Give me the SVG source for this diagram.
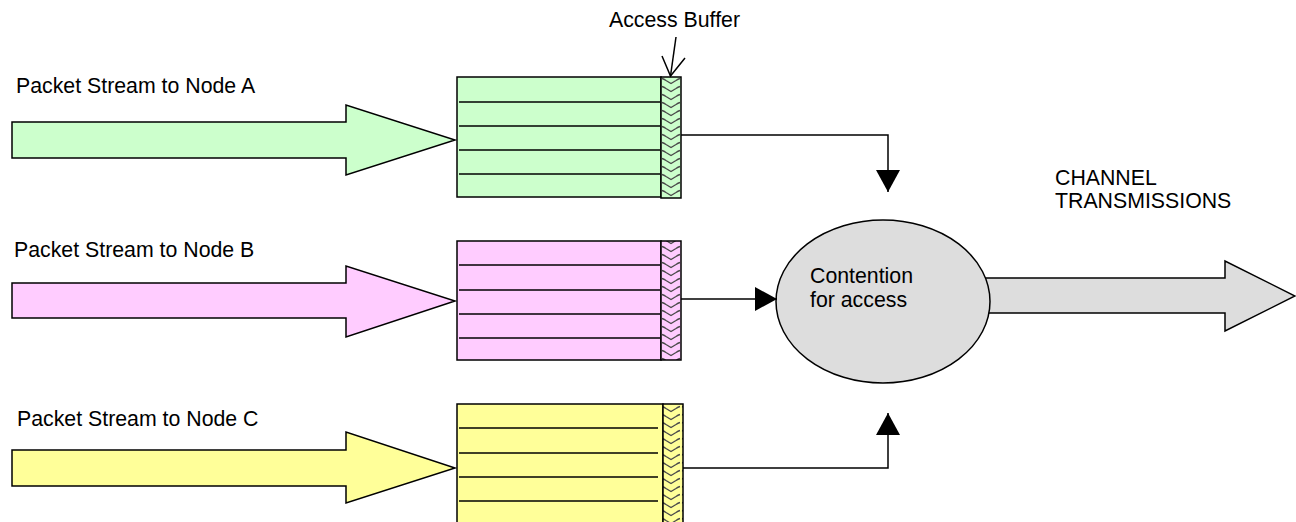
<svg xmlns="http://www.w3.org/2000/svg" width="1296" height="522" viewBox="0 0 1296 522">
<style>
text{font-family:"Liberation Sans",Arial,sans-serif;font-size:21.3px;fill:#000}
.outline{stroke:#000;stroke-width:1.5;stroke-linejoin:miter}
.row{stroke:#000;stroke-width:1.4}
.conn{fill:none;stroke:#000;stroke-width:1.5}
.chev{fill:url(#chev);stroke:none}
</style>
<defs>
<pattern id="chev" patternUnits="userSpaceOnUse" x="661" y="77" width="20" height="8">
<path d="M1,1.5 Q3,2 5,3.5 L10,6.5 L15,3.5 Q17,2 19,1.5" fill="none" stroke="#4a4a4a" stroke-width="1.3"/>
</pattern>
<marker id="tri" viewBox="0 0 22 24" refX="22" refY="12" markerWidth="22" markerHeight="24" markerUnits="userSpaceOnUse" orient="auto">
<path d="M0,0 L22,12 L0,24 Z" fill="#000"/>
</marker>
</defs>

<g id="streamA">
<text x="16" y="93">Packet Stream to Node A</text>
<path class="outline" fill="#CCFFCC" d="M12,122 L346,122 L346,105 L455,140 L346,175 L346,158 L12,158 Z"/>
</g>
<g id="streamB">
<text x="14" y="257">Packet Stream to Node B</text>
<path class="outline" fill="#FFCCFF" d="M12,283 L346,283 L346,266 L455,301 L346,337 L346,318 L12,318 Z"/>
</g>
<g id="streamC">
<text x="17" y="426">Packet Stream to Node C</text>
<path class="outline" fill="#FFFF99" d="M12,450 L346,450 L346,432 L455,468 L346,503 L346,486 L12,486 Z"/>
</g>

<g id="bufferA">
<rect class="outline" x="457" y="77" width="204" height="120" fill="#CCFFCC"/>
<line class="row" x1="459" y1="102" x2="660" y2="102"/>
<line class="row" x1="459" y1="126" x2="660" y2="126"/>
<line class="row" x1="459" y1="150" x2="660" y2="150"/>
<line class="row" x1="459" y1="174" x2="660" y2="174"/>
<rect x="661" y="77" width="20" height="121" fill="#CCFFCC"/>
<rect class="chev" x="661" y="77" width="20" height="121"/>
<rect x="661" y="77" width="20" height="121" fill="none" stroke="#000" stroke-width="1.5"/>
</g>
<g id="bufferB">
<rect class="outline" x="457" y="241" width="204" height="119" fill="#FFCCFF"/>
<line class="row" x1="459" y1="265" x2="660" y2="265"/>
<line class="row" x1="459" y1="290" x2="660" y2="290"/>
<line class="row" x1="459" y1="314" x2="660" y2="314"/>
<line class="row" x1="459" y1="338" x2="660" y2="338"/>
<rect x="661" y="241" width="20" height="119" fill="#FFCCFF"/>
<rect class="chev" x="661" y="241" width="20" height="119"/>
<rect x="661" y="241" width="20" height="119" fill="none" stroke="#000" stroke-width="1.5"/>
</g>
<g id="bufferC">
<rect class="outline" x="457" y="404" width="206" height="122" fill="#FFFF99"/>
<line class="row" x1="459" y1="428" x2="658" y2="428"/>
<line class="row" x1="459" y1="453" x2="658" y2="453"/>
<line class="row" x1="459" y1="477" x2="658" y2="477"/>
<line class="row" x1="459" y1="501" x2="658" y2="501"/>
<rect x="663" y="404" width="20" height="122" fill="#FFFF99"/>
<rect class="chev" x="663" y="404" width="20" height="122"/>
<rect x="663" y="404" width="20" height="122" fill="none" stroke="#000" stroke-width="1.5"/>
</g>

<g id="channel">
<path class="outline" fill="#DDDDDD" d="M950,278 L1225,278 L1225,261 L1295,296 L1225,331 L1225,313 L950,313 Z"/>
<text x="1055" y="185">CHANNEL</text>
<text x="1055" y="208">TRANSMISSIONS</text>
</g>

<g id="contention">
<ellipse class="outline" cx="883" cy="301.5" rx="107" ry="81.5" fill="#DDDDDD"/>
<text x="810" y="283">Contention</text>
<text x="810" y="307">for access</text>
</g>

<g id="accessLabel">
<text x="609" y="27">Access Buffer</text>
</g>

<g id="connectors">
<path class="conn" d="M681,135 L888,135 L888,192" marker-end="url(#tri)"/>
<path class="conn" d="M681,299 L777,299" marker-end="url(#tri)"/>
<path class="conn" d="M683,468 L888,468 L888,413" marker-end="url(#tri)"/>
<line class="conn" x1="676" y1="37" x2="670.5" y2="76"/>
<polyline class="conn" points="662,56 670.5,76 685,58"/>
</g>
</svg>
